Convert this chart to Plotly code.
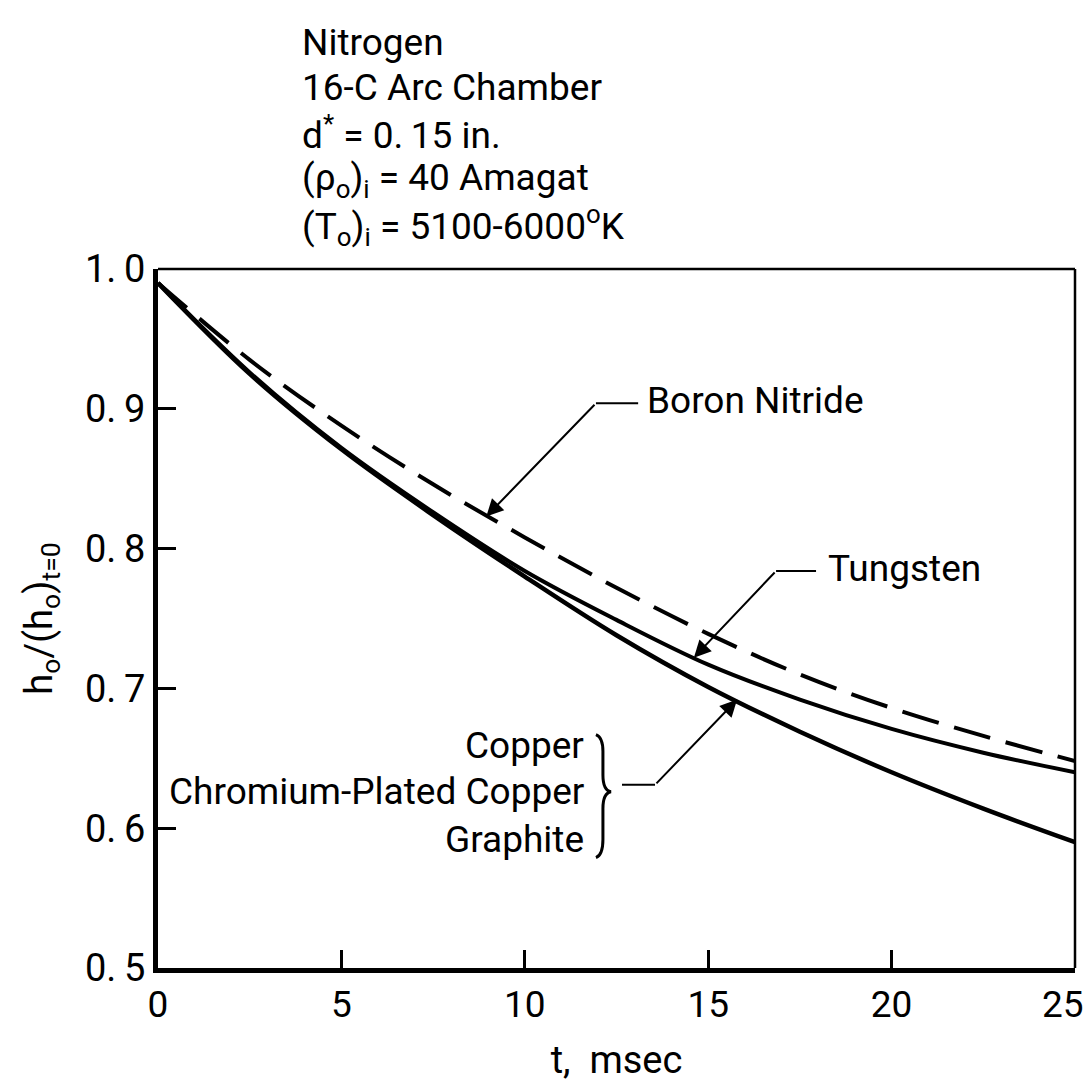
import plotly.graph_objects as go

# ---- data ----
t_msec = [0, 2.5, 5, 7.5, 10, 12.5, 15, 17.5, 20, 22.5, 25]
boron_nitride = [0.990, 0.935, 0.888, 0.846, 0.808, 0.772, 0.739, 0.710, 0.686, 0.666, 0.648]
tungsten = [0.990, 0.926, 0.872, 0.826, 0.784, 0.749, 0.717, 0.692, 0.671, 0.654, 0.640]
copper_group = [0.990, 0.925, 0.871, 0.824, 0.780, 0.738, 0.701, 0.669, 0.640, 0.614, 0.590]

x_ticks = [0, 5, 10, 15, 20, 25]
x_ticktext = ["0", "5", "10", "15", "20", "25"]
y_ticks = [0.5, 0.6, 0.7, 0.8, 0.9, 1.0]
y_ticktext = ["0.\u20095", "0.\u20096", "0.\u20097", "0.\u20098", "0.\u20099", "1.\u20090"]

FONT = "Roboto, Liberation Sans, sans-serif"
BLACK = "#000000"
TXT = 37

fig = go.Figure()
fig.add_trace(go.Scatter(x=t_msec, y=boron_nitride, mode="lines", name="Boron Nitride",
                         line=dict(color=BLACK, width=4, dash="38px,16px", shape="spline")))
fig.add_trace(go.Scatter(x=t_msec, y=tungsten, mode="lines", name="Tungsten",
                         line=dict(color=BLACK, width=4, shape="spline")))
fig.add_trace(go.Scatter(x=t_msec, y=copper_group, mode="lines", name="Copper group",
                         line=dict(color=BLACK, width=4.5, shape="spline")))

annotations = []
# Title block
title_lines = [
    ("Nitrogen", 42),
    ("16-C Arc Chamber", 88),
    ("d<sup>*</sup> = 0.\u200915 in.", 133),
    ("(ρ<sub>o</sub>)<sub>i</sub> = 40 Amagat", 180),
    ("(T<sub>o</sub>)<sub>i</sub> = 5100-6000<sup>o</sup>K", 226),
]
for txt, py in title_lines:
    annotations.append(dict(text=txt, xref="paper", yref="paper",
                            x=(300 - 158) / 917, y=(968 - py) / 699,
                            xanchor="left", yanchor="middle", showarrow=False,
                            font=dict(family=FONT, size=TXT, color=BLACK)))

# Curve labels
annotations.append(dict(text="Boron Nitride", xref="x", yref="y", x=13.28, y=0.906,
                        xanchor="left", yanchor="middle", showarrow=False,
                        font=dict(family=FONT, size=TXT, color=BLACK)))
annotations.append(dict(text="Tungsten", xref="x", yref="y", x=18.21, y=0.786,
                        xanchor="left", yanchor="middle", showarrow=False,
                        font=dict(family=FONT, size=TXT, color=BLACK)))
for txt, yv in [("Copper", 0.659), ("Chromium-Plated Copper", 0.626), ("Graphite", 0.592)]:
    annotations.append(dict(text=txt, xref="x", yref="y", x=11.67, y=yv,
                            xanchor="right", yanchor="middle", showarrow=False,
                            font=dict(family=FONT, size=TXT, color=BLACK)))

# last x tick label, kept inside the page (right-aligned at the axis end)
annotations.append(dict(text=x_ticktext[-1], xref="x", yref="paper", x=x_ticks[-1],
                        y=(968 - 1004) / 699, xanchor="right", yanchor="middle",
                        xshift=11, showarrow=False,
                        font=dict(family=FONT, size=37, color=BLACK)))
x_ticktext_axis = x_ticktext[:-1] + [""]

# Leader arrows (tip on curve, tail at kink)
for tip_x, tip_y, kink_x, kink_y in [(8.95, 0.823, 11.94, 0.904),
                                     (14.61, 0.722, 16.85, 0.784),
                                     (15.79, 0.692, 13.55, 0.631)]:
    annotations.append(dict(text="", xref="x", yref="y", x=tip_x, y=tip_y,
                            axref="x", ayref="y", ax=kink_x, ay=kink_y,
                            showarrow=True, arrowhead=2, arrowsize=1.7, arrowwidth=2,
                            arrowcolor=BLACK, standoff=0))

shapes = [
    # horizontal parts of the leaders
    dict(type="line", xref="x", yref="y", x0=11.94, y0=0.904, x1=13.09, y1=0.904,
         line=dict(color=BLACK, width=2)),
    dict(type="line", xref="x", yref="y", x0=16.85, y0=0.784, x1=17.94, y1=0.784,
         line=dict(color=BLACK, width=2)),
    dict(type="line", xref="x", yref="y", x0=12.65, y0=0.631, x1=13.55, y1=0.631,
         line=dict(color=BLACK, width=2)),
    # brace
    dict(type="path", xref="x", yref="y",
         path="M 11.94,0.667 Q 12.13,0.665 12.13,0.655 L 12.13,0.638 Q 12.13,0.627 12.35,0.626 "
              "Q 12.13,0.625 12.13,0.614 L 12.13,0.592 Q 12.13,0.581 11.94,0.579",
         line=dict(color=BLACK, width=3)),
    # thin top and right frame
    dict(type="line", xref="paper", yref="paper", x0=0, y0=1, x1=1, y1=1,
         line=dict(color=BLACK, width=2.5)),
    dict(type="line", xref="paper", yref="paper", x0=1, y0=0, x1=1, y1=1,
         line=dict(color=BLACK, width=2.5)),
]

fig.update_layout(
    width=1089, height=1092,
    margin=dict(l=158, r=14, t=269, b=124, autoexpand=False),
    paper_bgcolor="white", plot_bgcolor="white",
    showlegend=False,
    annotations=annotations, shapes=shapes,
    font=dict(family=FONT, color=BLACK, size=TXT),
)
fig.update_xaxes(range=[0, 25], tickvals=x_ticks, ticktext=x_ticktext_axis,
                 ticks="inside", ticklen=18, tickwidth=2.5, tickcolor=BLACK,
                 showline=True, linewidth=5, linecolor=BLACK, mirror=False,
                 showgrid=False, zeroline=False, ticklabeloverflow="allow", automargin=False,
                 tickfont=dict(family=FONT, size=37, color=BLACK),
                 title=dict(text="t,  msec", font=dict(family=FONT, size=38, color=BLACK), standoff=22))
fig.update_yaxes(range=[0.5, 1.0], tickvals=y_ticks, ticktext=y_ticktext,
                 ticks="inside", ticklen=18, tickwidth=2.5, tickcolor=BLACK,
                 showline=True, linewidth=5, linecolor=BLACK, mirror=False,
                 showgrid=False, zeroline=False, ticklabeloverflow="allow", automargin=False,
                 tickfont=dict(family=FONT, size=38, color=BLACK),
                 title=dict(text="h<sub>o</sub>/(h<sub>o</sub>)<sub>t=0</sub>",
                            font=dict(family=FONT, size=38, color=BLACK), standoff=22))

fig.write_html("out.html")
